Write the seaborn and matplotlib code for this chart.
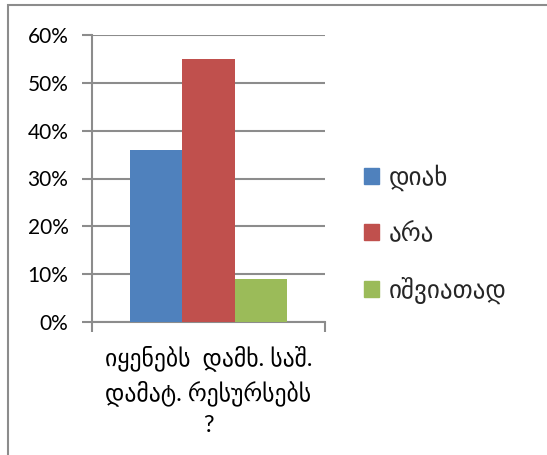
import pandas as pd
import seaborn as sns
import matplotlib.pyplot as plt
from matplotlib.patches import Rectangle
from matplotlib.ticker import PercentFormatter

# data
category = ['იყენებს  დამხ. საშ.\nდამატ. რესურსებს\n?']
answers = ['დიახ', 'არა', 'იშვიათად']
shares = [0.36, 0.55, 0.09]
colors = ['#4f81bd', '#c0504d', '#9bbb59']

df = pd.DataFrame({'Question': category * len(answers), 'Answer': answers, 'Share': shares})

sns.set_style('white')
plt.rcParams['font.family'] = ['Lato', 'DejaVu Sans']

fig = plt.figure(figsize=(5.47, 4.55), dpi=100)
ax = fig.add_axes([92/547, 1 - 322/455, (325 - 92)/547, (322 - 35)/455])

sns.barplot(data=df, x='Question', y='Share', hue='Answer', palette=colors,
            width=0.67, saturation=1, linewidth=0, ax=ax, zorder=3)

grid_c = '#8c8c8c'
ax.set_xlim(-0.5, 0.5)
ax.set_ylim(0, 0.6)
ax.set_yticks([0, 0.1, 0.2, 0.3, 0.4, 0.5, 0.6])
ax.yaxis.set_major_formatter(PercentFormatter(1.0, decimals=0))
ax.grid(axis='y', color=grid_c, lw=1.5, zorder=0)
ax.set_xlabel('')
ax.set_ylabel('')
for s in ['top', 'right']:
    ax.spines[s].set_visible(False)
for s in ['left', 'bottom']:
    ax.spines[s].set_color(grid_c)
    ax.spines[s].set_linewidth(1.5)

ax.tick_params(axis='y', left=True, length=7, width=1.5, color=grid_c,
               labelsize=15, labelcolor='black', pad=10)
ax.tick_params(axis='x', which='major', bottom=False, labelsize=17, labelcolor='black', pad=13)
ax.set_xticks([-0.5, 0.5], minor=True)
ax.tick_params(axis='x', which='minor', bottom=True, length=7, width=1.5, color=grid_c)
for lbl in ax.get_xticklabels():
    lbl.set_linespacing(1.5)
    lbl.set_ha('center')

ax.get_legend().remove()
handles = [Rectangle((0, 0), 1, 1, color=c) for c in colors]
fig.legend(handles, answers, loc='center left', bbox_to_anchor=(341/547, 1 - 234/455),
           frameon=False, handlelength=0.6, handleheight=0.6,
           handletextpad=0.4, labelspacing=1.25, prop={'size': 18})

# chart border, cut off at right and bottom like the reference
fig.add_artist(Rectangle((8/547, -0.1), 1.2, 1 - 5/455 + 0.1, transform=fig.transFigure,
                         fill=False, edgecolor='#8c8c8c', lw=1.5))

fig.savefig('out.png', dpi=100)
